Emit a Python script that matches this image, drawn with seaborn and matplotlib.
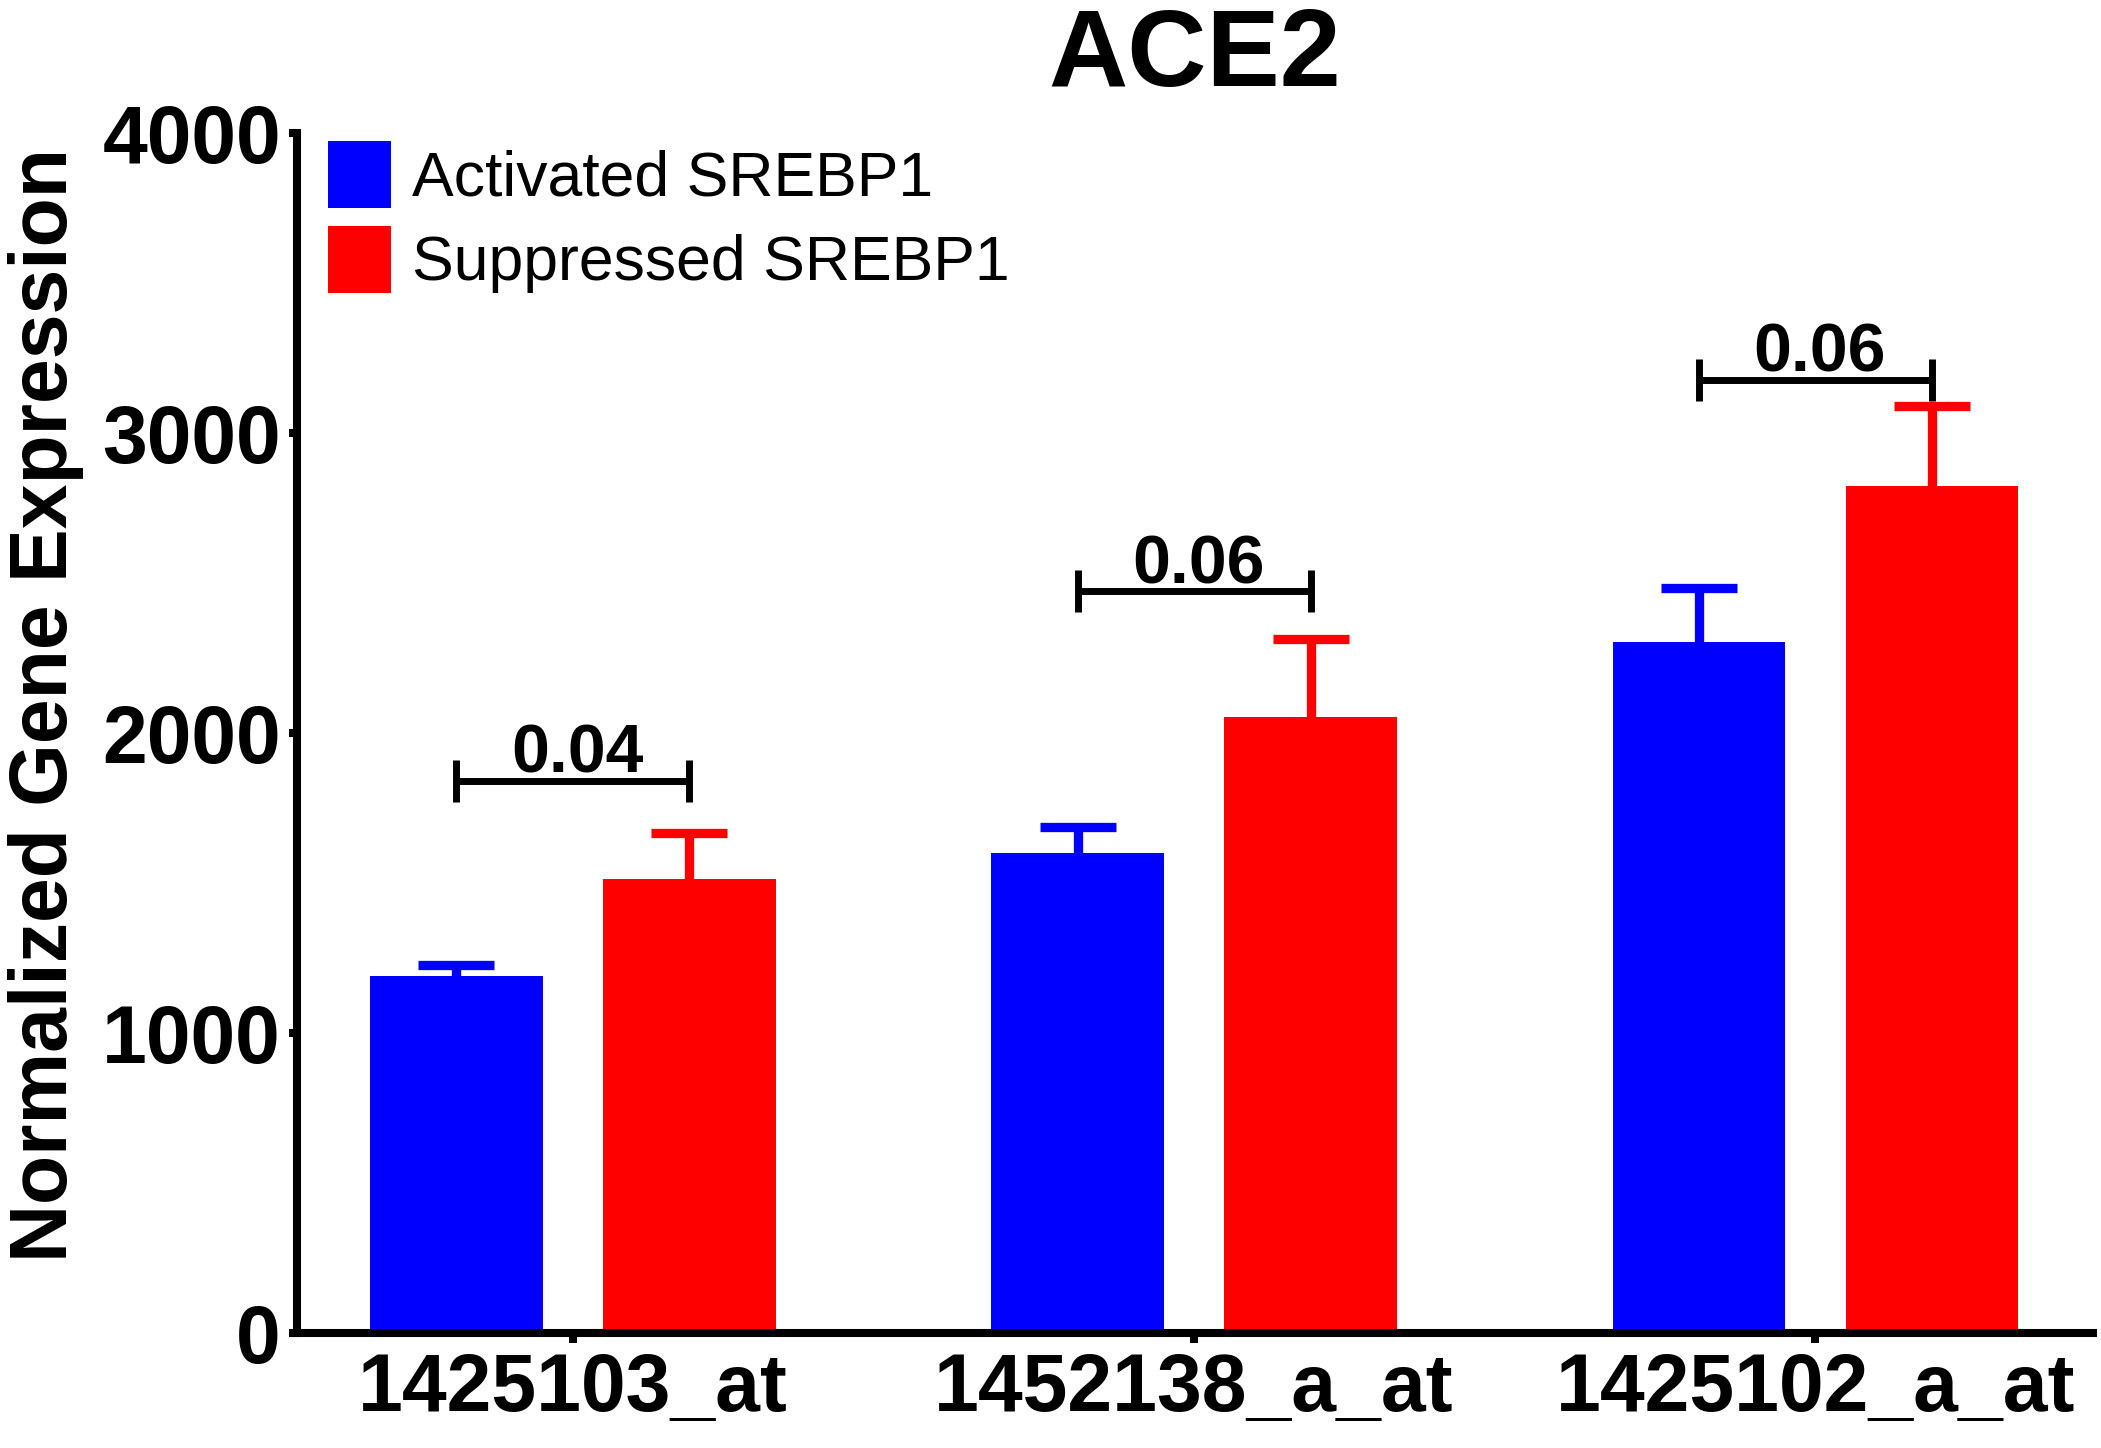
import matplotlib
matplotlib.use("Agg")
import matplotlib.pyplot as plt
import seaborn as sns
import pandas as pd
import numpy as np

# ---- data ----
probes = ["1425103_at", "1452138_a_at", "1425102_a_at"]
groups = ["Activated SREBP1", "Suppressed SREBP1"]
activated_mean = [1190, 1600, 2305]
activated_sem = [38, 88, 180]
suppressed_mean = [1512, 2052, 2825]
suppressed_sem = [155, 260, 265]
bracket_y = [1840, 2472, 3177]
p_values = ["0.04", "0.06", "0.06"]
colors = ["#0000FF", "#FF0000"]

df = pd.DataFrame({
    "probe": probes * 2,
    "group": [groups[0]] * 3 + [groups[1]] * 3,
    "value": activated_mean + suppressed_mean,
})

sns.set_style("ticks")
plt.rcParams["font.family"] = ["Liberation Sans", "DejaVu Sans"]
plt.rcParams["text.color"] = "black"
plt.rcParams["axes.labelcolor"] = "black"
plt.rcParams["xtick.color"] = "black"
plt.rcParams["ytick.color"] = "black"

DPI = 100
fig = plt.figure(figsize=(2101 / DPI, 1448 / DPI), dpi=DPI)
ax = fig.add_axes([297 / 2101, 1 - 1333 / 1448, (2093 - 297) / 2101, (1333 - 133) / 1448])

sns.barplot(data=df, x="probe", y="value", hue="group", order=probes,
            hue_order=groups, palette=colors, errorbar=None,
            width=0.75, gap=0.26, linewidth=0, saturation=1, ax=ax)

lw = 5.8
# error bars (upper only) placed on the seaborn bars
for cont, means, errs, col in zip(ax.containers, [activated_mean, suppressed_mean],
                                  [activated_sem, suppressed_sem], colors):
    xs = [b.get_x() + b.get_width() / 2 for b in cont]
    eb = ax.errorbar(xs, means, yerr=[np.zeros(len(errs)), errs], fmt="none",
                     ecolor=col, elinewidth=6.7, capsize=27.7, capthick=6.7, zorder=1)
    eb[1][0].set_visible(False)  # hide the lower caps

# significance brackets
blue_x = [b.get_x() + b.get_width() / 2 for b in ax.containers[0]]
red_x = [b.get_x() + b.get_width() / 2 for b in ax.containers[1]]
for i, (bx, rx, yb, p) in enumerate(zip(blue_x, red_x, bracket_y, p_values)):
    c = (bx + rx) / 2
    ax.errorbar([c], [yb], xerr=[[c - bx], [rx - c]], fmt="none", ecolor="black",
                elinewidth=5, capsize=15, capthick=5, zorder=3)
    ax.annotate(p, xy=(i, yb), xytext=(3, 6), textcoords="offset points",
                ha="center", va="baseline", fontsize=49, fontweight="bold",
                color="black")

ax.set_xlim(-0.444, 2.447)
ax.set_ylim(0, 4000)
ax.set_yticks([0, 1000, 2000, 3000, 4000])
ax.set_xlabel("")
ax.set_ylabel("Normalized Gene Expression", fontsize=58, fontweight="bold",
              color="black")
ax.yaxis.set_label_coords(-0.1186, 0.523)
ax.set_title("ACE2", fontsize=79, fontweight="bold", pad=34, color="black")

for s in ["top", "right"]:
    ax.spines[s].set_visible(False)
for s in ["left", "bottom"]:
    ax.spines[s].set_linewidth(lw)
    ax.spines[s].set_color("black")
ax.tick_params(axis="y", length=5.8, width=lw, pad=5.8, labelsize=58, colors="black")
ax.tick_params(axis="x", length=7, width=lw, pad=6.5, labelsize=58, colors="black")
for lab in ax.get_xticklabels() + ax.get_yticklabels():
    lab.set_fontweight("bold")

sns.move_legend(ax, "upper left", bbox_to_anchor=(0.0173, 0.9937), title=None,
                frameon=False, fontsize=45, handlelength=1.0, handleheight=1.272,
                handletextpad=0.35, labelspacing=0.285, borderpad=0, borderaxespad=0)
for t in ax.get_legend().get_texts():
    t.set_color("black")

fig.savefig("out.png", dpi=DPI)
